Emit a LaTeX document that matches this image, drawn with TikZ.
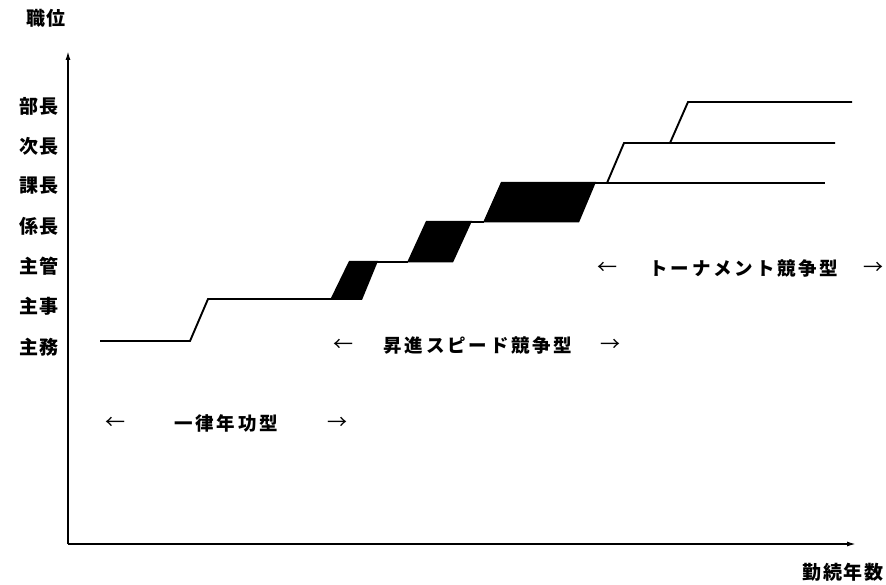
\documentclass[tikz,border=0pt]{standalone}
\usepackage{fontspec}
\setmainfont{Noto Sans CJK JP}
\usetikzlibrary{arrows.meta}
\begin{document}
\begin{tikzpicture}[x=1pt,y=-1pt,
  lab/.style={font=\fontsize{19}{20}\selectfont\bfseries\addfontfeature{LetterSpace=8}, inner sep=0pt},
  band/.style={font=\fontsize{18.5}{20}\selectfont\bfseries\addfontfeature{LetterSpace=15}, inner sep=0pt},
  arr/.style={font=\fontsize{20}{20}\selectfont, inner sep=0pt},
  curve/.style={line width=1.9pt, line join=miter},
  axis/.style={line width=1.5pt, -{Latex[length=9pt,width=5pt]}}]
\useasboundingbox (0,0) rectangle (886,585);
\fill[white] (0,0) rectangle (886,585);
% axes
\coordinate (O) at (68,544);
\coordinate (Ytop) at (68,51);
\coordinate (Xend) at (856,544);
\draw[axis] (O) -- (Ytop);
\draw[axis] (O) -- (Xend);
\node[lab] (ylab) at (46,18) {職位};
\node[lab] (xlab) at (843,572) {勤続年数};
% rank labels
\node[lab] (r7) at (39,106) {部長};
\node[lab] (r6) at (39,146) {次長};
\node[lab] (r5) at (39,186) {課長};
\node[lab] (r4) at (39,226) {係長};
\node[lab] (r3) at (39,266) {主管};
\node[lab] (r2) at (39,306) {主事};
\node[lab] (r1) at (39,347) {主務};
% career path
\draw[curve] (100,341) -- (190,341) -- (208,299) -- (331,299);
\fill (330,300) -- (349,261) -- (378,261) -- (362,300) -- cycle;
\draw[curve] (376,262) -- (408,262);
\fill (407,262.5) -- (426,221) -- (472,221) -- (453,262.5) -- cycle;
\draw[curve] (470,222) -- (484,222);
\fill (483,222.5) -- (501,182) -- (596,182) -- (579,222.5) -- cycle;
\draw[curve] (594,183) -- (825,183);
\draw[curve] (607,183) -- (624,143) -- (835,143);
\draw[curve] (670,143) -- (688,102) -- (852,102);
% bands
\node[arr] (a1l) at (115,423) {←};
\node[band] (b1) at (226,423) {一律年功型};
\node[arr] (a1r) at (337,423) {→};
\node[arr] (a2l) at (343,345) {←};
\node[band] (b2) at (478,345) {昇進スピード競争型};
\node[arr] (a2r) at (610,345) {→};
\node[arr] (a3l) at (607,268) {←};
\node[band] (b3) at (744,268) {トーナメント競争型};
\node[arr] (a3r) at (873,268) {→};
\end{tikzpicture}
\end{document}
